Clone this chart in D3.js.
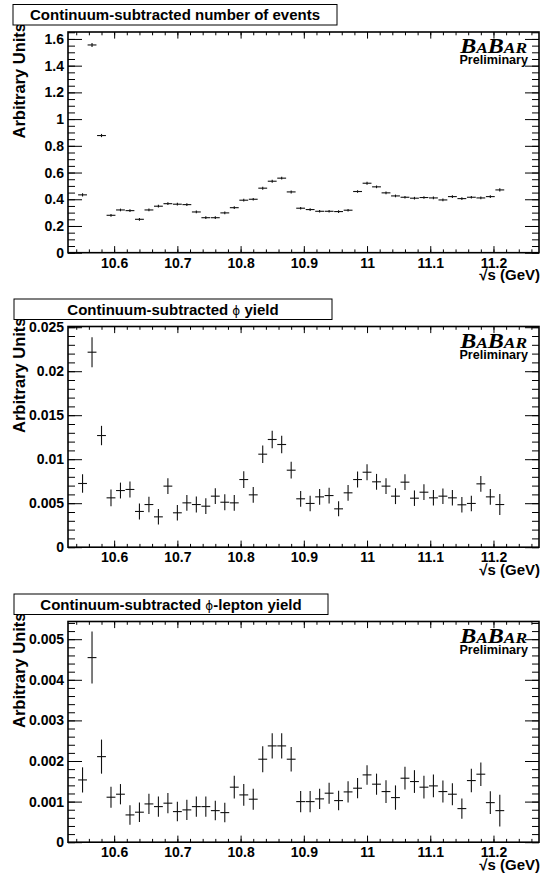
<!DOCTYPE html>
<html>
<head>
<meta charset="utf-8">
<script src="https://cdn.jsdelivr.net/npm/d3@7"></script>
<style>
body { margin: 0; background: #fff; }
svg { display: block; }
text { font-family: "Liberation Sans", Arial, Helvetica, sans-serif; font-weight: bold; fill: #000; }
.tick text { font-size: 14px; }
</style>
</head>
<body>
<script>
// bin centres (GeV)
var energies = [10.550, 10.565, 10.580, 10.595, 10.610, 10.625, 10.640, 10.655, 10.670, 10.685,
                10.700, 10.715, 10.730, 10.745, 10.760, 10.775, 10.790, 10.805, 10.820, 10.835,
                10.850, 10.865, 10.880, 10.895, 10.910, 10.925, 10.940, 10.955, 10.970, 10.985,
                11.000, 11.015, 11.030, 11.045, 11.060, 11.075, 11.090, 11.105, 11.120, 11.135,
                11.150, 11.165, 11.180, 11.195, 11.210];

// continuum-subtracted number of events
var eventsVal = [0.433, 1.555, 0.877, 0.280, 0.320, 0.315, 0.250, 0.320, 0.348, 0.367,
                 0.363, 0.360, 0.305, 0.262, 0.262, 0.298, 0.337, 0.393, 0.400, 0.483,
                 0.535, 0.558, 0.455, 0.333, 0.323, 0.310, 0.310, 0.308, 0.318, 0.458,
                 0.520, 0.493, 0.448, 0.425, 0.415, 0.408, 0.413, 0.410, 0.395, 0.420,
                 0.405, 0.415, 0.410, 0.420, 0.470];
var eventsErr = [0.012, 0.015, 0.012, 0.010, 0.010, 0.010, 0.010, 0.010, 0.010, 0.010,
                 0.010, 0.010, 0.010, 0.010, 0.010, 0.010, 0.010, 0.010, 0.010, 0.011,
                 0.011, 0.011, 0.011, 0.010, 0.010, 0.010, 0.010, 0.010, 0.010, 0.010,
                 0.011, 0.010, 0.010, 0.010, 0.010, 0.010, 0.010, 0.010, 0.010, 0.010,
                 0.010, 0.010, 0.010, 0.010, 0.012];

// continuum-subtracted phi yield
var phiVal = [0.00724, 0.02216, 0.01269, 0.00561, 0.00644, 0.00656, 0.00406, 0.00485, 0.00345, 0.00694,
              0.00391, 0.00504, 0.00485, 0.00466, 0.00580, 0.00511, 0.00504, 0.00769, 0.00595, 0.01057,
              0.01224, 0.01167, 0.00875, 0.00550, 0.00497, 0.00572, 0.00587, 0.00436, 0.00618, 0.00769,
              0.00852, 0.00743, 0.00694, 0.00580, 0.00739, 0.00557, 0.00625, 0.00561, 0.00580, 0.00561,
              0.00482, 0.00497, 0.00720, 0.00572, 0.00485];
var phiErr = [0.00105, 0.00170, 0.00110, 0.00095, 0.00090, 0.00090, 0.00090, 0.00088, 0.00088, 0.00090,
              0.00088, 0.00090, 0.00090, 0.00090, 0.00090, 0.00090, 0.00090, 0.00095, 0.00090, 0.00100,
              0.00100, 0.00100, 0.00095, 0.00090, 0.00088, 0.00090, 0.00090, 0.00085, 0.00090, 0.00090,
              0.00090, 0.00090, 0.00090, 0.00090, 0.00090, 0.00088, 0.00090, 0.00088, 0.00088, 0.00088,
              0.00088, 0.00088, 0.00090, 0.00090, 0.00120];

// continuum-subtracted phi-lepton yield
var phiLepVal = [0.001534, 0.004547, 0.002108, 0.001108, 0.001182, 0.000672, 0.000739, 0.000943, 0.000877, 0.000961,
                 0.000754, 0.000796, 0.000877, 0.000877, 0.000778, 0.000729, 0.001355, 0.001165, 0.001059, 0.002044,
                 0.002372, 0.002372, 0.002044, 0.001000, 0.001000, 0.001067, 0.001207, 0.001025, 0.001239, 0.001330,
                 0.001658, 0.001429, 0.001247, 0.001099, 0.001576, 0.001494, 0.001355, 0.001387, 0.001247, 0.001182,
                 0.000828, 0.001518, 0.001675, 0.000975, 0.000778];
var phiLepErr = [0.00031, 0.00064, 0.00042, 0.00026, 0.00025, 0.00024, 0.00024, 0.00025, 0.00025, 0.00025,
                 0.00024, 0.00025, 0.00025, 0.00025, 0.00024, 0.00024, 0.00028, 0.00027, 0.00026, 0.00032,
                 0.00031, 0.00031, 0.00030, 0.00026, 0.00026, 0.00025, 0.00026, 0.00024, 0.00026, 0.00025,
                 0.00024, 0.00026, 0.00028, 0.00030, 0.00028, 0.00028, 0.00028, 0.00028, 0.00027, 0.00027,
                 0.00025, 0.00029, 0.00029, 0.00028, 0.00039];

var xTicks = [10.6, 10.7, 10.8, 10.9, 11.0, 11.1, 11.2];
var xTickLabels = ["10.6", "10.7", "10.8", "10.9", "11", "11.1", "11.2"];

var eventsTicks = [0, 0.2, 0.4, 0.6, 0.8, 1.0, 1.2, 1.4, 1.6];
var eventsTickLabels = ["0", "0.2", "0.4", "0.6", "0.8", "1", "1.2", "1.4", "1.6"];
var phiTicks = [0, 0.005, 0.01, 0.015, 0.02, 0.025];
var phiTickLabels = ["0", "0.005", "0.01", "0.015", "0.02", "0.025"];
var phiLepTicks = [0, 0.001, 0.002, 0.003, 0.004, 0.005];
var phiLepTickLabels = ["0", "0.001", "0.002", "0.003", "0.004", "0.005"];

var panelTitles = ["Continuum-subtracted number of events",
                   "Continuum-subtracted \u03d5 yield",
                   "Continuum-subtracted \u03d5-lepton yield"];
var yTitle = "Arbitrary Units";
var xTitle = "\u221as (GeV)";

var width = 545, height = 876;
var frameL = 68, frameR = 539, frameT = 32, frameB = 252.7;

var svg = d3.select("body").append("svg")
    .attr("width", width)
    .attr("height", height);

var x = d3.scaleLinear()
    .domain([10.527, 11.272])
    .range([frameL, frameR]);

var xMinor = d3.range(10.54, 11.27, 0.02);

var panels = [
    { top: 0, vals: eventsVal, errs: eventsErr, ymax: 1.652, ticks: eventsTicks, labels: eventsTickLabels,
      minor: 0.05, title: panelTitles[0], box: [13, 337] },
    { top: 294.5, vals: phiVal, errs: phiErr, ymax: 0.02508, ticks: phiTicks, labels: phiTickLabels,
      minor: 0.001, title: panelTitles[1], box: [14, 332] },
    { top: 589.5, vals: phiLepVal, errs: phiLepErr, ymax: 0.005436, ticks: phiLepTicks, labels: phiLepTickLabels,
      minor: 0.0002, title: panelTitles[2], box: [14, 328] }
];

panels.forEach(drawPanel);

function drawPanel(p) {
    var g = svg.append("g").attr("transform", "translate(0," + p.top + ")");

    var y = d3.scaleLinear()
        .domain([0, p.ymax])
        .range([frameB, frameT]);

    var yMinor = d3.range(0, p.ymax, p.minor);

    // axes, ROOT style: ticks point inwards
    g.append("g").attr("transform", "translate(0," + frameB + ")")
        .call(d3.axisBottom(x).tickValues(xTicks)
            .tickFormat(function (d, i) { return xTickLabels[i]; })
            .tickSize(-6.6).tickSizeOuter(0).tickPadding(5));
    g.append("g").attr("transform", "translate(0," + frameB + ")")
        .call(d3.axisBottom(x).tickValues(xMinor).tickFormat("").tickSize(-3.3).tickSizeOuter(0));
    g.append("g").attr("transform", "translate(0," + frameT + ")")
        .call(d3.axisTop(x).tickValues(xTicks).tickFormat("").tickSize(-6.6).tickSizeOuter(0));
    g.append("g").attr("transform", "translate(0," + frameT + ")")
        .call(d3.axisTop(x).tickValues(xMinor).tickFormat("").tickSize(-3.3).tickSizeOuter(0));

    g.append("g").attr("transform", "translate(" + frameL + ",0)")
        .call(d3.axisLeft(y).tickValues(p.ticks)
            .tickFormat(function (d, i) { return p.labels[i]; })
            .tickSize(-14).tickSizeOuter(0).tickPadding(4));
    g.append("g").attr("transform", "translate(" + frameL + ",0)")
        .call(d3.axisLeft(y).tickValues(yMinor).tickFormat("").tickSize(-7).tickSizeOuter(0));
    g.append("g").attr("transform", "translate(" + frameR + ",0)")
        .call(d3.axisRight(y).tickValues(p.ticks).tickFormat("").tickSize(-14).tickSizeOuter(0));
    g.append("g").attr("transform", "translate(" + frameR + ",0)")
        .call(d3.axisRight(y).tickValues(yMinor).tickFormat("").tickSize(-7).tickSizeOuter(0));

    g.selectAll(".domain").remove();
    g.selectAll(".tick text").filter(function () { return this.textContent === ""; }).remove();
    g.selectAll(".tick line").attr("stroke", "#000").attr("stroke-width", 1);

    // frame
    g.append("rect")
        .attr("x", frameL).attr("y", frameT)
        .attr("width", frameR - frameL).attr("height", frameB - frameT)
        .attr("fill", "none").attr("stroke", "#000").attr("stroke-width", 1.6);

    // error bars
    var pts = g.append("g").attr("stroke", "#111").attr("stroke-width", 1.1);
    pts.selectAll("line.v")
        .data(energies)
        .enter().append("line")
        .attr("class", "v")
        .attr("x1", function (d) { return x(d); })
        .attr("x2", function (d) { return x(d); })
        .attr("y1", function (d, i) { return y(Math.max(0, p.vals[i] - p.errs[i])); })
        .attr("y2", function (d, i) { return y(Math.min(p.ymax, p.vals[i] + p.errs[i])); });
    pts.selectAll("line.h")
        .data(energies)
        .enter().append("line")
        .attr("class", "h")
        .attr("x1", function (d) { return x(d - 0.007); })
        .attr("x2", function (d) { return x(d + 0.007); })
        .attr("y1", function (d, i) { return y(p.vals[i]); })
        .attr("y2", function (d, i) { return y(p.vals[i]); });

    // axis titles (drawn before the title box, which sits on top)
    g.append("text")
        .attr("transform", "translate(25,23) rotate(-90)")
        .attr("text-anchor", "end")
        .style("font-size", "16.5px")
        .text(yTitle);
    g.append("text")
        .attr("x", 540).attr("y", 280)
        .attr("text-anchor", "end")
        .style("font-size", "15px")
        .text(xTitle);

    // title box
    g.append("rect")
        .attr("x", p.box[0]).attr("y", 4.5)
        .attr("width", p.box[1] - p.box[0]).attr("height", 20.5)
        .attr("fill", "#fff").attr("stroke", "#000").attr("stroke-width", 1);
    var t = g.append("text")
        .attr("x", (p.box[0] + p.box[1]) / 2).attr("y", 20)
        .attr("text-anchor", "middle")
        .style("font-size", "15px");
    var parts = p.title.split("\u03d5");
    t.append("tspan").text(parts[0]);
    if (parts.length > 1) {
        t.append("tspan").style("font-family", "DejaVu Sans").style("font-weight", "normal")
            .style("font-size", "12px").text("\u03d5");
        t.append("tspan").text(parts[1]);
    }

    // experiment logo
    var logo = g.append("text")
        .attr("transform", "translate(527,53) scale(1.2,1)")
        .attr("text-anchor", "end")
        .style("font-family", "'Liberation Serif', 'Times New Roman', serif")
        .style("font-style", "italic");
    logo.append("tspan").style("font-size", "20px").text("B");
    logo.append("tspan").style("font-size", "14.5px").text("A");
    logo.append("tspan").style("font-size", "20px").text("B");
    logo.append("tspan").style("font-size", "14.5px").text("AR");
    g.append("text")
        .attr("x", 528).attr("y", 64)
        .attr("text-anchor", "end")
        .style("font-size", "12.6px")
        .text("Preliminary");
}
</script>
</body>
</html>
